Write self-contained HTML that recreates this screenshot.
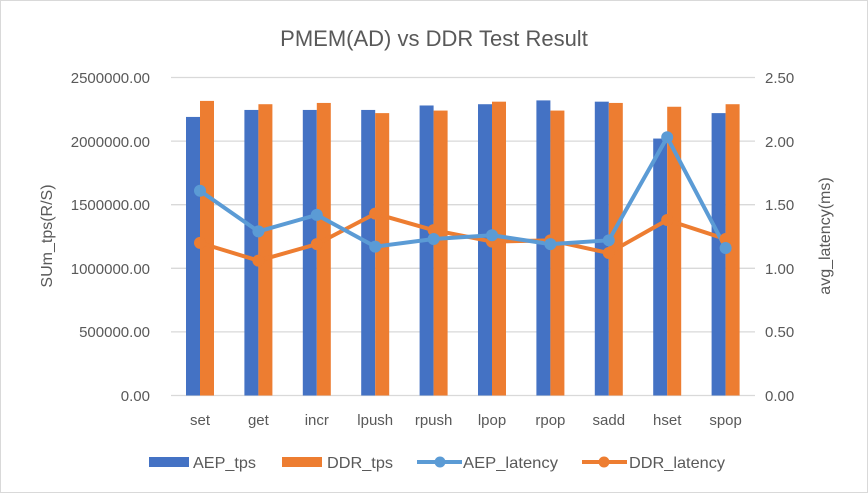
<!DOCTYPE html><html><head><style>body{margin:0;background:#fff}svg{display:block;font-family:"Liberation Sans",sans-serif}</style></head><body>
<svg width="868" height="493" viewBox="0 0 868 493">
<rect x="0.5" y="0.5" width="867" height="492" fill="#fff" stroke="#d9d9d9"/>
<text x="434" y="46" font-size="22" fill="#595959" text-anchor="middle">PMEM(AD) vs DDR Test Result</text>
<g stroke="#d9d9d9" stroke-width="1.3">
<line x1="171" x2="755" y1="77.5" y2="77.5"/><line x1="171" x2="755" y1="141.1" y2="141.1"/><line x1="171" x2="755" y1="204.7" y2="204.7"/><line x1="171" x2="755" y1="268.3" y2="268.3"/><line x1="171" x2="755" y1="331.9" y2="331.9"/><line x1="171" x2="755" y1="395.5" y2="395.5"/>
</g>
<g font-size="15" fill="#595959" text-anchor="end">
<text x="150" y="83">2500000.00</text><text x="150" y="147">2000000.00</text><text x="150" y="210">1500000.00</text><text x="150" y="274">1000000.00</text><text x="150" y="337">500000.00</text><text x="150" y="401">0.00</text>
</g>
<g font-size="15" fill="#595959" text-anchor="start">
<text x="765" y="83">2.50</text><text x="765" y="147">2.00</text><text x="765" y="210">1.50</text><text x="765" y="274">1.00</text><text x="765" y="337">0.50</text><text x="765" y="401">0.00</text>
</g>
<text transform="translate(52,236) rotate(-90)" font-size="16" fill="#595959" text-anchor="middle">SUm_tps(R/S)</text>
<text transform="translate(830,236) rotate(-90)" font-size="16" fill="#595959" text-anchor="middle">avg_latency(ms)</text>
<g id="bars"></g>
<g id="lines"></g>
<g font-size="15" fill="#595959" text-anchor="middle" id="cats"></g>
<g font-size="16" fill="#595959">
<rect x="149" y="457" width="40" height="10" fill="#4472c4"/><text x="193" y="468" textLength="63" lengthAdjust="spacingAndGlyphs">AEP_tps</text>
<rect x="282" y="457" width="40" height="10" fill="#ed7d31"/><text x="327" y="468" textLength="66" lengthAdjust="spacingAndGlyphs">DDR_tps</text>
<line x1="417" x2="462" y1="462" y2="462" stroke="#5b9bd5" stroke-width="4"/><circle cx="440" cy="462" r="5.5" fill="#5b9bd5"/><text x="463" y="468" textLength="95" lengthAdjust="spacingAndGlyphs">AEP_latency</text>
<line x1="582" x2="627" y1="462" y2="462" stroke="#ed7d31" stroke-width="4"/><circle cx="604" cy="462" r="5.5" fill="#ed7d31"/><text x="629" y="468" textLength="96" lengthAdjust="spacingAndGlyphs">DDR_latency</text>
</g>
<script>
var c=["set","get","incr","lpush","rpush","lpop","rpop","sadd","hset","spop"];
var a=[2190000,2245000,2245000,2245000,2280000,2290000,2320000,2310000,2020000,2220000];
var d=[2316000,2290000,2300000,2220000,2240000,2310000,2240000,2300000,2270000,2290000];
var la=[1.61,1.29,1.42,1.17,1.23,1.26,1.19,1.22,2.03,1.16];
var ld=[1.20,1.06,1.19,1.43,1.30,1.21,1.22,1.12,1.38,1.23];
var ns="http://www.w3.org/2000/svg",B=document.getElementById("bars"),L=document.getElementById("lines"),C=document.getElementById("cats");
function el(t,p,g){var e=document.createElementNS(ns,t);for(var k in p)e.setAttribute(k,p[k]);g.appendChild(e);return e;}
var y0=395.5,h=318;
function yb(v){return y0-v/2500000*h}function yl(v){return y0-v/2.5*h}
var pa=[],pd=[];
for(var i=0;i<10;i++){var x=200+i*58.4;
el("rect",{x:x-14,y:yb(a[i]),width:14,height:y0-yb(a[i]),fill:"#4472c4"},B);
el("rect",{x:x,y:yb(d[i]),width:14,height:y0-yb(d[i]),fill:"#ed7d31"},B);
pa.push(x+","+yl(la[i]));pd.push(x+","+yl(ld[i]));
var t=el("text",{x:x,y:425},C);t.textContent=c[i];}
el("polyline",{points:pd.join(" "),fill:"none",stroke:"#ed7d31","stroke-width":4,"stroke-linejoin":"round"},L);
el("polyline",{points:pa.join(" "),fill:"none",stroke:"#5b9bd5","stroke-width":4,"stroke-linejoin":"round"},L);
for(var i=0;i<10;i++){var x=200+i*58.4;
el("circle",{cx:x,cy:yl(ld[i]),r:6,fill:"#ed7d31"},L);
el("circle",{cx:x,cy:yl(la[i]),r:6,fill:"#5b9bd5"},L);}
</script>
</svg></body></html>
